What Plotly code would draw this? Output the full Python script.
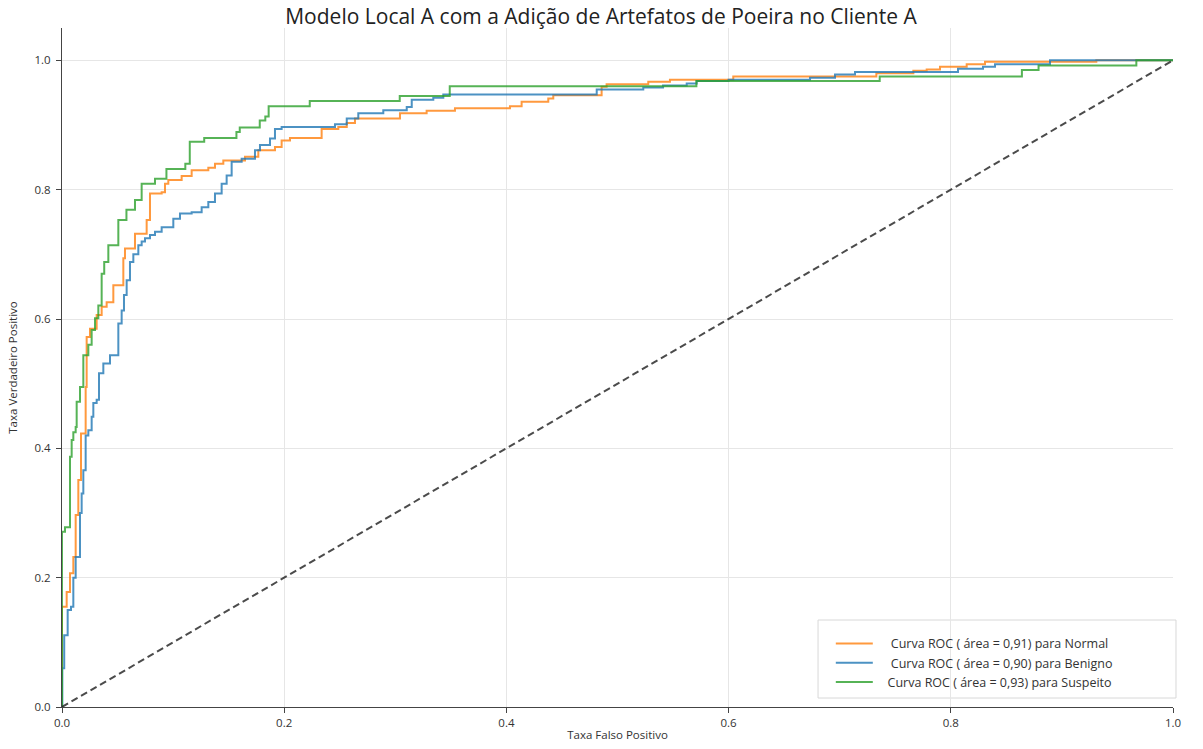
import plotly.graph_objects as go

title_text = "Modelo Local A com a Adição de Artefatos de Poeira no Cliente A"
x_title = "Taxa Falso Positivo"
y_title = "Taxa Verdadeiro Positivo"

tick_vals = [0.0, 0.2, 0.4, 0.6, 0.8, 1.0]
tick_text = ["0.0", "0.2", "0.4", "0.6", "0.8", "1.0"]

pad = "\u00a0\u00a0\u00a0\u00a0"
names = [
    pad + "Curva ROC ( área = 0,91) para Normal",
    pad + "Curva ROC ( área = 0,90) para Benigno",
    pad[:-1] + "Curva ROC ( área = 0,93) para Suspeito",
]
colors = ["rgba(255,127,14,0.8)", "rgba(31,119,180,0.8)", "rgba(44,160,44,0.8)"]

fpr_normal = [0.0, 0.0, 0.0042, 0.0072, 0.0102, 0.0123, 0.0147, 0.0171, 0.0213, 0.0222,
              0.0252, 0.0312, 0.0357, 0.0402, 0.0462, 0.0552, 0.0567, 0.0657, 0.0762, 0.0792,
              0.0897, 0.0927, 0.0957, 0.1077, 0.1167, 0.1317, 0.1377, 0.1452, 0.1647, 0.1767,
              0.1917, 0.1977, 0.2052, 0.2337, 0.2487, 0.2563, 0.2637, 0.3042, 0.3282, 0.3537,
              0.4032, 0.4137, 0.4377, 0.4422, 0.4857, 0.4902, 0.5277, 0.5472, 0.6042, 0.733,
              0.7663, 0.7783, 0.7903, 0.8143, 0.8308, 0.931, 1.0]
tpr_normal = [0.0, 0.155, 0.178, 0.207, 0.232, 0.297, 0.351, 0.423, 0.495, 0.572,
              0.585, 0.606, 0.619, 0.626, 0.652, 0.694, 0.709, 0.732, 0.753, 0.794,
              0.796, 0.809, 0.815, 0.821, 0.830, 0.834, 0.840, 0.845, 0.851, 0.861,
              0.866, 0.876, 0.880, 0.894, 0.897, 0.903, 0.910, 0.918, 0.922, 0.926,
              0.929, 0.936, 0.941, 0.946, 0.959, 0.963, 0.967, 0.970, 0.975, 0.980,
              0.984, 0.986, 0.990, 0.994, 0.998, 1.0, 1.0]

fpr_benigno = [0.0, 0.0003, 0.002, 0.0051, 0.0081, 0.0102, 0.0123, 0.0162, 0.0177, 0.0192,
               0.0213, 0.0237, 0.0267, 0.0282, 0.0312, 0.0333, 0.0372, 0.0432, 0.0507, 0.0537,
               0.0558, 0.0582, 0.0612, 0.0642, 0.0687, 0.0717, 0.0747, 0.0792, 0.0837, 0.0897,
               0.1002, 0.1062, 0.1167, 0.1257, 0.1317, 0.1377, 0.1437, 0.1482, 0.1527, 0.1617,
               0.1737, 0.1782, 0.1872, 0.1917, 0.1977, 0.2457, 0.2563, 0.2667, 0.2892, 0.3103,
               0.3148, 0.3342, 0.3432, 0.4813, 0.5232, 0.541, 0.5623, 0.5713, 0.6, 0.6733,
               0.6958, 0.7138, 0.8065, 0.829, 0.8398, 0.8893, 1.0]
tpr_benigno = [0.0, 0.06, 0.111, 0.15, 0.155, 0.2, 0.232, 0.30, 0.33, 0.366,
               0.42, 0.428, 0.449, 0.47, 0.475, 0.516, 0.531, 0.544, 0.593, 0.613,
               0.637, 0.66, 0.688, 0.70, 0.714, 0.72, 0.725, 0.73, 0.735, 0.742,
               0.755, 0.763, 0.765, 0.773, 0.781, 0.794, 0.809, 0.822, 0.843, 0.848,
               0.861, 0.869, 0.879, 0.894, 0.897, 0.901, 0.910, 0.918, 0.923, 0.928,
               0.939, 0.942, 0.947, 0.955, 0.958, 0.961, 0.964, 0.968, 0.970, 0.973,
               0.978, 0.982, 0.987, 0.990, 0.994, 1.0, 1.0]

fpr_suspeito = [0.0, 0.0, 0.0027, 0.0072, 0.0087, 0.0102, 0.0123, 0.0132, 0.0162, 0.0192,
                0.0237, 0.0267, 0.0297, 0.0327, 0.0357, 0.038, 0.0417, 0.0507, 0.058, 0.0657,
                0.0717, 0.0837, 0.094, 0.111, 0.115, 0.128, 0.157, 0.160, 0.178, 0.183,
                0.186, 0.223, 0.304, 0.349, 0.571, 0.736, 0.864, 0.879, 0.967, 1.0]
tpr_suspeito = [0.0, 0.271, 0.278, 0.387, 0.413, 0.425, 0.433, 0.472, 0.495, 0.544,
                0.560, 0.583, 0.601, 0.621, 0.670, 0.688, 0.714, 0.753, 0.769, 0.784,
                0.809, 0.817, 0.832, 0.840, 0.874, 0.880, 0.889, 0.896, 0.907, 0.913,
                0.929, 0.937, 0.945, 0.960, 0.968, 0.975, 0.985, 0.992, 1.0, 1.0]

diag = [0.0, 1.0]

fig = go.Figure()
for fx, fy, nm, col in [(fpr_normal, tpr_normal, names[0], colors[0]),
                        (fpr_benigno, tpr_benigno, names[1], colors[1]),
                        (fpr_suspeito, tpr_suspeito, names[2], colors[2])]:
    fig.add_trace(go.Scatter(x=fx, y=fy, mode="lines", name=nm,
                             line=dict(color=col, width=2, shape="hv")))

fig.add_trace(go.Scatter(x=diag, y=diag, mode="lines", showlegend=False,
                         line=dict(color="rgba(30,30,30,0.8)", width=2, dash="7px,4px")))

font_family = "Open Sans, Lato, DejaVu Sans, sans-serif"
fig.update_layout(
    width=1203, height=749,
    margin=dict(l=62, r=30, t=28, b=42, autoexpand=False),
    paper_bgcolor="white", plot_bgcolor="white",
    title=dict(text=title_text, x=601 / 1203, xref="container", xanchor="center",
               y=1 - 17 / 749, yref="container", yanchor="middle", automargin=False,
               font=dict(family=font_family, size=21, color="#222")),
    font=dict(family=font_family, size=11.5, color="#333"),
    legend=dict(x=0.692, xanchor="left", y=0.1149, yanchor="top",
                borderwidth=0, bgcolor="rgba(0,0,0,0)",
                font=dict(size=12.5, color="#333"), itemwidth=37,
                tracegroupgap=0),
    showlegend=True,
    shapes=[dict(type="rect", xref="paper", yref="paper",
                 x0=0.6805, x1=1.0027, y0=0.01325, y1=0.1281,
                 line=dict(color="#d8d8d8", width=1), fillcolor="white", layer="below")],
)
fig.update_xaxes(range=[0, 1], tickvals=tick_vals, ticktext=tick_text, automargin=False,
                 showgrid=True, gridcolor="#e6e6e6", gridwidth=1, zeroline=False,
                 showline=True, linecolor="#444", linewidth=1.2,
                 ticks="outside", ticklen=5, tickcolor="#444",
                 title=dict(text=x_title, standoff=2, font=dict(size=11.5)))
fig.update_yaxes(range=[0, 1.05], tickvals=tick_vals, ticktext=tick_text, automargin=False,
                 showgrid=True, gridcolor="#e6e6e6", gridwidth=1, zeroline=False,
                 showline=True, linecolor="#444", linewidth=1.2,
                 ticks="outside", ticklen=5, tickcolor="#444", ticklabelstandoff=3,
                 title=dict(text=y_title, standoff=14, font=dict(size=11.5)))

fig.write_html("out.html", config={"displayModeBar": False},
               post_script="document.body.style.margin='0px';")
